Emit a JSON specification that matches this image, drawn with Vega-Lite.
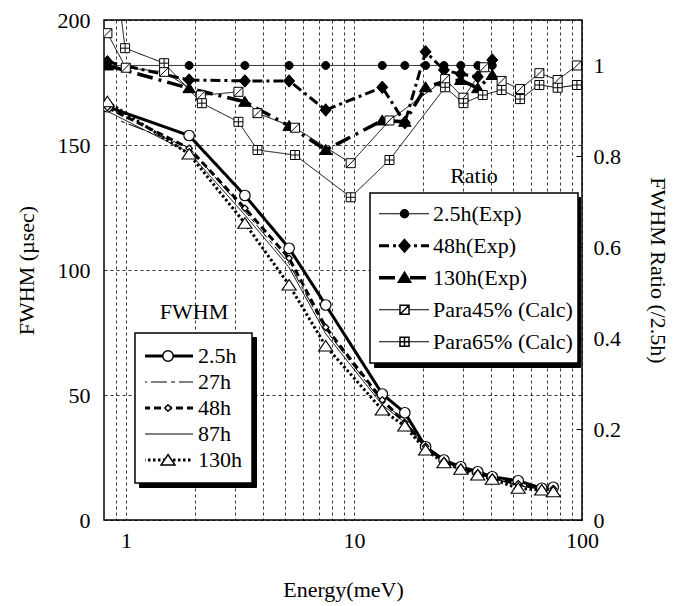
{
  "$schema": "https://vega.github.io/schema/vega-lite/v6.json",
  "width": 478,
  "height": 500,
  "autosize": {"type": "none"},
  "padding": {"left": 104, "top": 20, "right": 94, "bottom": 86},
  "background": "white",
  "config": {
    "view": {"stroke": "black", "strokeWidth": 1.5},
    "font": "'Liberation Serif', 'Times New Roman', Times, serif",
    "axis": {"labelFont": "'Liberation Serif', 'Times New Roman', Times, serif", "titleFont": "'Liberation Serif', 'Times New Roman', Times, serif", "labelFontSize": 22, "titleFontSize": 22, "titleFontWeight": "normal", "labelColor": "black", "titleColor": "black", "domain": false, "ticks": false, "gridColor": "black", "gridDash": [3, 3], "gridOpacity": 1, "gridWidth": 0.8},
    "legend": {"labelFont": "'Liberation Serif', 'Times New Roman', Times, serif", "titleFont": "'Liberation Serif', 'Times New Roman', Times, serif", "labelFontSize": 22, "titleFontSize": 22, "titleFontWeight": "normal", "labelColor": "black", "titleColor": "black", "labelLimit": 400}
  },
  "datasets": {
    "fwhm": [
      {"series": "2.5h", "E": 0.828, "FWHM": 165.3}, {"series": "2.5h", "E": 1.89, "FWHM": 153.8}, {"series": "2.5h", "E": 3.32, "FWHM": 129.8}, {"series": "2.5h", "E": 5.19, "FWHM": 108.7}, {"series": "2.5h", "E": 7.51, "FWHM": 86}, {"series": "2.5h", "E": 13.3, "FWHM": 50.4}, {"series": "2.5h", "E": 16.7, "FWHM": 42.9}, {"series": "2.5h", "E": 20.6, "FWHM": 29.3}, {"series": "2.5h", "E": 24.8, "FWHM": 24}, {"series": "2.5h", "E": 29.4, "FWHM": 21.3}, {"series": "2.5h", "E": 34.9, "FWHM": 19.3}, {"series": "2.5h", "E": 40.4, "FWHM": 17.3}, {"series": "2.5h", "E": 52.5, "FWHM": 15.7}, {"series": "2.5h", "E": 66.6, "FWHM": 12.7}, {"series": "2.5h", "E": 74.8, "FWHM": 13.1},
      {"series": "27h", "E": 0.95, "FWHM": 159.5}, {"series": "27h", "E": 1.89, "FWHM": 149}, {"series": "27h", "E": 3.32, "FWHM": 123.5}, {"series": "27h", "E": 5.19, "FWHM": 102.5}, {"series": "27h", "E": 7.51, "FWHM": 76}, {"series": "27h", "E": 13.3, "FWHM": 47}, {"series": "27h", "E": 16.7, "FWHM": 40}, {"series": "27h", "E": 20.6, "FWHM": 28.8}, {"series": "27h", "E": 24.8, "FWHM": 23.5}, {"series": "27h", "E": 29.4, "FWHM": 20.8}, {"series": "27h", "E": 34.9, "FWHM": 18.6}, {"series": "27h", "E": 40.4, "FWHM": 16.8}, {"series": "27h", "E": 52.5, "FWHM": 14}, {"series": "27h", "E": 66.6, "FWHM": 12.4}, {"series": "27h", "E": 74.8, "FWHM": 12.2},
      {"series": "48h", "E": 0.828, "FWHM": 165}, {"series": "48h", "E": 1.89, "FWHM": 148.7}, {"series": "48h", "E": 3.32, "FWHM": 124.7}, {"series": "48h", "E": 5.19, "FWHM": 104.7}, {"series": "48h", "E": 7.51, "FWHM": 77.1}, {"series": "48h", "E": 13.3, "FWHM": 48}, {"series": "48h", "E": 16.7, "FWHM": 39}, {"series": "48h", "E": 20.6, "FWHM": 29.5}, {"series": "48h", "E": 24.8, "FWHM": 23.6}, {"series": "48h", "E": 29.4, "FWHM": 20.9}, {"series": "48h", "E": 34.9, "FWHM": 18.8}, {"series": "48h", "E": 40.4, "FWHM": 17}, {"series": "48h", "E": 52.5, "FWHM": 14.5}, {"series": "48h", "E": 66.6, "FWHM": 12.4}, {"series": "48h", "E": 74.8, "FWHM": 12.6},
      {"series": "87h", "E": 0.828, "FWHM": 163.5}, {"series": "87h", "E": 1.89, "FWHM": 147}, {"series": "87h", "E": 3.32, "FWHM": 122}, {"series": "87h", "E": 5.19, "FWHM": 101}, {"series": "87h", "E": 7.51, "FWHM": 74.5}, {"series": "87h", "E": 13.3, "FWHM": 46}, {"series": "87h", "E": 16.7, "FWHM": 39}, {"series": "87h", "E": 20.6, "FWHM": 28.4}, {"series": "87h", "E": 24.8, "FWHM": 23.3}, {"series": "87h", "E": 29.4, "FWHM": 20.6}, {"series": "87h", "E": 34.9, "FWHM": 18.4}, {"series": "87h", "E": 40.4, "FWHM": 16.6}, {"series": "87h", "E": 52.5, "FWHM": 13.8}, {"series": "87h", "E": 66.6, "FWHM": 12.2}, {"series": "87h", "E": 74.8, "FWHM": 12},
      {"series": "130h", "E": 0.828, "FWHM": 167.3}, {"series": "130h", "E": 1.89, "FWHM": 146.4}, {"series": "130h", "E": 3.32, "FWHM": 118.7}, {"series": "130h", "E": 5.19, "FWHM": 94}, {"series": "130h", "E": 7.51, "FWHM": 69.6}, {"series": "130h", "E": 13.3, "FWHM": 44}, {"series": "130h", "E": 16.7, "FWHM": 37.6}, {"series": "130h", "E": 20.6, "FWHM": 28}, {"series": "130h", "E": 24.8, "FWHM": 22.9}, {"series": "130h", "E": 29.4, "FWHM": 20.3}, {"series": "130h", "E": 34.9, "FWHM": 18}, {"series": "130h", "E": 40.4, "FWHM": 16.3}, {"series": "130h", "E": 52.5, "FWHM": 12.7}, {"series": "130h", "E": 66.6, "FWHM": 12}, {"series": "130h", "E": 74.8, "FWHM": 11.3}
    ],
    "ratio": [
      {"rseries": "2.5h(Exp)", "E": 0.828, "ratio": 1}, {"rseries": "2.5h(Exp)", "E": 1.89, "ratio": 1}, {"rseries": "2.5h(Exp)", "E": 3.32, "ratio": 1}, {"rseries": "2.5h(Exp)", "E": 5.19, "ratio": 1}, {"rseries": "2.5h(Exp)", "E": 7.51, "ratio": 1}, {"rseries": "2.5h(Exp)", "E": 13.3, "ratio": 1}, {"rseries": "2.5h(Exp)", "E": 16.7, "ratio": 1}, {"rseries": "2.5h(Exp)", "E": 20.6, "ratio": 1}, {"rseries": "2.5h(Exp)", "E": 24.8, "ratio": 1}, {"rseries": "2.5h(Exp)", "E": 29.4, "ratio": 1}, {"rseries": "2.5h(Exp)", "E": 34.9, "ratio": 1}, {"rseries": "2.5h(Exp)", "E": 40.4, "ratio": 1},
      {"rseries": "48h(Exp)", "E": 0.828, "ratio": 1.008}, {"rseries": "48h(Exp)", "E": 1.89, "ratio": 0.968}, {"rseries": "48h(Exp)", "E": 3.32, "ratio": 0.966}, {"rseries": "48h(Exp)", "E": 5.19, "ratio": 0.966}, {"rseries": "48h(Exp)", "E": 7.51, "ratio": 0.902}, {"rseries": "48h(Exp)", "E": 13.3, "ratio": 0.952}, {"rseries": "48h(Exp)", "E": 16.7, "ratio": 0.874}, {"rseries": "48h(Exp)", "E": 20.6, "ratio": 1.03}, {"rseries": "48h(Exp)", "E": 24.8, "ratio": 0.99}, {"rseries": "48h(Exp)", "E": 29.4, "ratio": 0.981}, {"rseries": "48h(Exp)", "E": 34.9, "ratio": 0.975}, {"rseries": "48h(Exp)", "E": 40.4, "ratio": 1.012},
      {"rseries": "130h(Exp)", "E": 0.828, "ratio": 1.0}, {"rseries": "130h(Exp)", "E": 1.89, "ratio": 0.95}, {"rseries": "130h(Exp)", "E": 3.32, "ratio": 0.92}, {"rseries": "130h(Exp)", "E": 5.19, "ratio": 0.867}, {"rseries": "130h(Exp)", "E": 7.51, "ratio": 0.814}, {"rseries": "130h(Exp)", "E": 13.3, "ratio": 0.879}, {"rseries": "130h(Exp)", "E": 16.7, "ratio": 0.876}, {"rseries": "130h(Exp)", "E": 20.6, "ratio": 0.952}, {"rseries": "130h(Exp)", "E": 24.8, "ratio": 0.965}, {"rseries": "130h(Exp)", "E": 29.4, "ratio": 0.968}, {"rseries": "130h(Exp)", "E": 34.9, "ratio": 0.95}, {"rseries": "130h(Exp)", "E": 40.4, "ratio": 0.979},
      {"rseries": "Para45% (Calc)", "E": 0.828, "ratio": 1.071}, {"rseries": "Para45% (Calc)", "E": 0.997, "ratio": 0.995}, {"rseries": "Para45% (Calc)", "E": 1.468, "ratio": 0.986}, {"rseries": "Para45% (Calc)", "E": 2.126, "ratio": 0.934}, {"rseries": "Para45% (Calc)", "E": 3.11, "ratio": 0.942}, {"rseries": "Para45% (Calc)", "E": 3.77, "ratio": 0.895}, {"rseries": "Para45% (Calc)", "E": 5.51, "ratio": 0.863}, {"rseries": "Para45% (Calc)", "E": 9.67, "ratio": 0.785}, {"rseries": "Para45% (Calc)", "E": 14.3, "ratio": 0.879}, {"rseries": "Para45% (Calc)", "E": 25.1, "ratio": 0.97}, {"rseries": "Para45% (Calc)", "E": 30.2, "ratio": 0.929}, {"rseries": "Para45% (Calc)", "E": 37.2, "ratio": 0.996}, {"rseries": "Para45% (Calc)", "E": 44.4, "ratio": 0.966}, {"rseries": "Para45% (Calc)", "E": 53.5, "ratio": 0.948}, {"rseries": "Para45% (Calc)", "E": 65, "ratio": 0.983}, {"rseries": "Para45% (Calc)", "E": 78.2, "ratio": 0.968}, {"rseries": "Para45% (Calc)", "E": 95, "ratio": 1.0},
      {"rseries": "Para65% (Calc)", "E": 0.828, "ratio": 1.35}, {"rseries": "Para65% (Calc)", "E": 0.99, "ratio": 1.038}, {"rseries": "Para65% (Calc)", "E": 1.468, "ratio": 1.005}, {"rseries": "Para65% (Calc)", "E": 2.15, "ratio": 0.917}, {"rseries": "Para65% (Calc)", "E": 3.11, "ratio": 0.876}, {"rseries": "Para65% (Calc)", "E": 3.77, "ratio": 0.814}, {"rseries": "Para65% (Calc)", "E": 5.51, "ratio": 0.803}, {"rseries": "Para65% (Calc)", "E": 9.67, "ratio": 0.71}, {"rseries": "Para65% (Calc)", "E": 14.3, "ratio": 0.792}, {"rseries": "Para65% (Calc)", "E": 25.1, "ratio": 0.952}, {"rseries": "Para65% (Calc)", "E": 30.2, "ratio": 0.917}, {"rseries": "Para65% (Calc)", "E": 36.7, "ratio": 0.935}, {"rseries": "Para65% (Calc)", "E": 44.4, "ratio": 0.946}, {"rseries": "Para65% (Calc)", "E": 53.5, "ratio": 0.926}, {"rseries": "Para65% (Calc)", "E": 65, "ratio": 0.957}, {"rseries": "Para65% (Calc)", "E": 78.2, "ratio": 0.951}, {"rseries": "Para65% (Calc)", "E": 95, "ratio": 0.957}
    ]
  },
  "encoding": {
    "x": {"field": "E", "type": "quantitative", "scale": {"type": "log", "domain": [0.8, 100], "nice": false},
      "axis": {"values": [0.9, 1, 2, 3, 4, 5, 6, 7, 8, 9, 10, 20, 30, 40, 50, 60, 70, 80, 90, 100], "format": "~g", "labelExpr": "datum.value == 1 || datum.value == 10 || datum.value == 100 ? datum.label : ''", "grid": true, "title": "Energy(meV)", "labelPadding": 10, "titlePadding": 28, "labelFlush": false, "labelOverlap": false}}
  },
  "layer": [
    {
      "data": {"name": "fwhm"},
      "mark": {"type": "line", "color": "black", "clip": true},
      "encoding": {
        "y": {"field": "FWHM", "type": "quantitative", "scale": {"domain": [0, 200], "nice": false},
          "axis": {"orient": "left", "values": [0, 50, 100, 150, 200], "grid": true, "title": "FWHM (µsec)", "labelPadding": 14, "titlePadding": 19}},
        "strokeDash": {"field": "series", "type": "nominal",
          "scale": {"domain": ["2.5h", "27h", "48h", "87h", "130h"], "range": [[1, 0], [4, 4, 16, 4], [7, 4], [1, 0], [2.5, 2.5]]},
          "legend": {"orient": "none", "legendX": 31, "legendY": 313, "title": null, "symbolType": "stroke", "symbolSize": 2500, "symbolStrokeColor": "black", "clipHeight": 26, "rowPadding": 0, "padding": 10, "symbolOffset": 12, "labelOffset": 19, "strokeColor": "black", "fillColor": "white", "zindex": 1,
            "encode": {"symbols": {"update": {"size": {"value": 2500}, "strokeWidth": {"signal": "datum.value === '27h' || datum.value === '87h' ? 1 : 3"}}}, "legend": {"update": {"strokeWidth": {"value": 1.5}}}}}},
        "opacity": {"field": "series", "type": "nominal", "scale": {"range": [1, 1]},
          "legend": {"orient": "none", "legendX": 35, "legendY": 317, "title": null, "symbolType": "stroke", "clipHeight": 26, "rowPadding": 0, "padding": 10, "symbolOffset": -0.5, "labelOffset": -0.5, "labelExpr": "''", "strokeColor": "black", "fillColor": "black", "symbolStrokeColor": "black", "zindex": 0,
            "encode": {"symbols": {"update": {"size": {"value": 9409}, "strokeWidth": {"value": 1}}}}}},
        "strokeWidth": {"condition": {"test": "datum.series === '27h' || datum.series === '87h'", "value": 1}, "value": 3}
      }
    },
    {
      "data": {"name": "ratio"},
      "mark": {"type": "line", "color": "black", "clip": true},
      "encoding": {
        "y": {"field": "ratio", "type": "quantitative", "scale": {"domain": [0, 1.1], "nice": false},
          "axis": {"orient": "right", "values": [0, 0.2, 0.4, 0.6, 0.8, 1], "format": "~g", "grid": false, "title": "FWHM Ratio (/2.5h)", "labelPadding": 17, "titlePadding": 25, "ticks": true, "tickSize": -6, "tickColor": "black", "tickWidth": 1}},
        "strokeDash": {"field": "rseries", "type": "nominal",
          "scale": {"domain": ["2.5h(Exp)", "48h(Exp)", "130h(Exp)", "Para45% (Calc)", "Para65% (Calc)"], "range": [[1, 0], [10, 4, 3, 4], [16, 6, 3, 6], [1, 0], [1, 0]]},
          "legend": {"orient": "none", "legendX": 266, "legendY": 173, "title": null, "symbolType": "stroke", "symbolSize": 2500, "symbolStrokeColor": "black", "clipHeight": 31.5, "rowPadding": 0, "padding": 5, "symbolOffset": 18, "labelOffset": 18, "strokeColor": "black", "fillColor": "white", "zindex": 1,
            "encode": {"symbols": {"update": {"size": {"value": 2500}, "strokeWidth": {"signal": "datum.value === '48h(Exp)' ? 3 : datum.value === '130h(Exp)' ? 3.5 : 1"}}}, "legend": {"update": {"strokeWidth": {"value": 1.5}}}}}},
        "opacity": {"field": "rseries", "type": "nominal", "scale": {"range": [1, 1]},
          "legend": {"orient": "none", "legendX": 270, "legendY": 177, "title": null, "symbolType": "stroke", "clipHeight": 31.5, "rowPadding": 0, "padding": 5, "symbolOffset": -0.5, "labelOffset": -0.5, "labelExpr": "''", "strokeColor": "black", "fillColor": "black", "symbolStrokeColor": "black", "zindex": 0,
            "encode": {"symbols": {"update": {"size": {"value": 38416}, "strokeWidth": {"value": 1}}}}}},
        "strokeWidth": {"condition": [{"test": "datum.rseries === '48h(Exp)'", "value": 3}, {"test": "datum.rseries === '130h(Exp)'", "value": 3.5}], "value": 1}
      }
    },
    {
      "data": {"name": "fwhm"},
      "mark": {"type": "point", "filled": true, "fill": "white", "stroke": "black", "strokeWidth": 1.2, "size": 2500, "opacity": 1, "clip": true},
      "encoding": {
        "y": {"field": "FWHM", "type": "quantitative", "scale": {"domain": [0, 200], "nice": false}, "axis": null},
        "shape": {"field": "series", "type": "nominal",
          "scale": {"domain": ["2.5h", "27h", "48h", "87h", "130h"], "range": ["M0.21,0A0.21,0.21 0 1,1 -0.21,0A0.21,0.21 0 1,1 0.21,0Z", "M0,0", "M0,-0.13L0.13,0L0,0.13L-0.13,0Z", "M0,0", "M0,-0.22L0.28,0.2L-0.28,0.2Z"]},
          "legend": {"orient": "none", "legendX": 31, "legendY": 272, "title": "FWHM", "titleAnchor": "middle", "titlePadding": 19, "padding": 10, "symbolSize": 2500, "clipHeight": 26, "rowPadding": 0, "symbolOffset": -3, "labelOffset": 4, "labelOpacity": 0, "zindex": 2,
            "encode": {"symbols": {"update": {"size": {"value": 2500}, "fill": {"value": "white"}, "stroke": {"value": "black"}, "strokeWidth": {"value": 1.2}}}}}}
      }
    },
    {
      "data": {"name": "ratio"},
      "mark": {"type": "point", "filled": true, "stroke": "black", "strokeWidth": 1, "size": 2500, "opacity": 1, "clip": true},
      "encoding": {
        "y": {"field": "ratio", "type": "quantitative", "scale": {"domain": [0, 1.1], "nice": false}, "axis": null},
        "shape": {"field": "rseries", "type": "nominal",
          "scale": {"domain": ["2.5h(Exp)", "48h(Exp)", "130h(Exp)", "Para45% (Calc)", "Para65% (Calc)"], "range": ["M0.16,0A0.16,0.16 0 1,1 -0.16,0A0.16,0.16 0 1,1 0.16,0Z", "M0,-0.25L0.22,0L0,0.25L-0.22,0Z", "M0,-0.22L0.25,0.18L-0.25,0.18Z", "M-0.18,-0.18H0.18V0.18H-0.18Z M-0.18,0.18L0.18,-0.18", "M-0.18,-0.18H0.18V0.18H-0.18Z M0,-0.18V0.18 M-0.18,0H0.18"]},
          "legend": {"orient": "none", "legendX": 266, "legendY": 141, "title": "Ratio", "titleAnchor": "middle", "titlePadding": 10, "padding": 5, "symbolSize": 2500, "clipHeight": 31.5, "rowPadding": 0, "symbolOffset": 3.5, "labelOffset": 3.5, "labelOpacity": 0, "zindex": 2,
            "encode": {"symbols": {"update": {"size": {"value": 2500}, "stroke": {"value": "black"}, "strokeWidth": {"value": 1}}}}}},
        "fill": {"field": "rseries", "type": "nominal",
          "scale": {"domain": ["2.5h(Exp)", "48h(Exp)", "130h(Exp)", "Para45% (Calc)", "Para65% (Calc)"], "range": ["black", "black", "black", "white", "white"]},
          "legend": {"orient": "none", "legendX": 266, "legendY": 141, "title": "Ratio", "titleAnchor": "middle", "titlePadding": 10, "padding": 5, "symbolSize": 2500, "clipHeight": 31.5, "rowPadding": 0, "symbolOffset": 3.5, "labelOffset": 3.5, "labelOpacity": 0, "zindex": 2,
            "encode": {"symbols": {"update": {"size": {"value": 2500}, "stroke": {"value": "black"}, "strokeWidth": {"value": 1}}}}}}
      }
    }
  ],
  "resolve": {"scale": {"y": "independent", "strokeDash": "independent", "shape": "independent", "fill": "independent", "opacity": "independent"}}
}
